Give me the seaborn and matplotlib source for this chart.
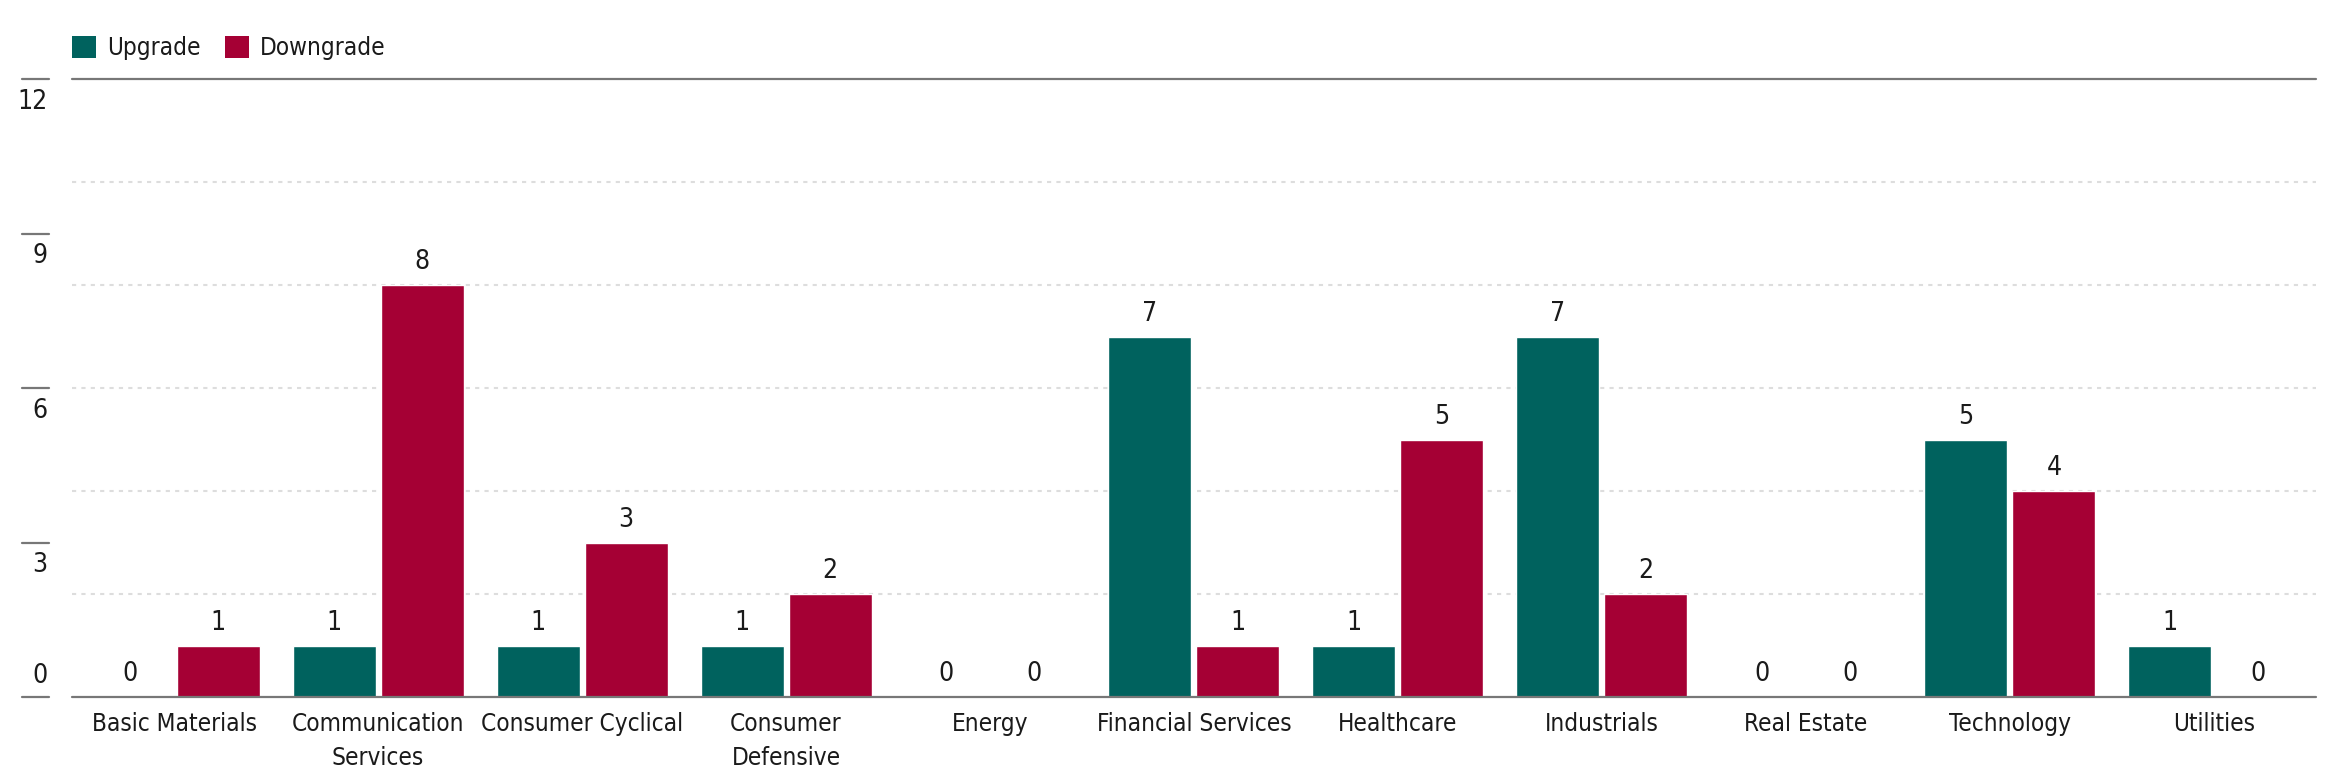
import pandas as pd
import numpy as np
import matplotlib
matplotlib.use("Agg")
import matplotlib.pyplot as plt
import seaborn as sns
from matplotlib.patches import Patch

# data
sectors = ["Basic Materials", "Communication\nServices", "Consumer Cyclical",
           "Consumer\nDefensive", "Energy", "Financial Services", "Healthcare",
           "Industrials", "Real Estate", "Technology", "Utilities"]
upgrade = [0, 1, 1, 1, 0, 7, 1, 7, 0, 5, 1]
downgrade = [1, 8, 3, 2, 0, 1, 5, 2, 0, 4, 0]
series = ["Upgrade", "Downgrade"]
y_ticks = [0, 3, 6, 9, 12]
grid_vals = [2, 4, 6, 8, 10]

colors = {"Upgrade": "#00625E", "Downgrade": "#A50034"}
line_col = "#777777"
text_col = "#1a1a1a"

df = pd.DataFrame({
    "sector": sectors * 2,
    "series": ["Upgrade"] * len(sectors) + ["Downgrade"] * len(sectors),
    "count": upgrade + downgrade,
})

sns.set_theme(style="white")
plt.rcParams['font.family'] = ['DejaVu Sans']
plt.rcParams['font.stretch'] = 'condensed'
plt.rcParams['text.color'] = text_col

fig = plt.figure(figsize=(23.4, 7.8), dpi=100)
ax = fig.add_axes([0.0308, 0.1064, 0.9589, 0.7923])

sns.barplot(data=df, x="sector", y="count", hue="series", hue_order=series,
            order=sectors, palette=colors, width=0.863, gap=0.057,
            saturation=1, legend=False, ax=ax, zorder=3)

for c in ax.containers:
    ax.bar_label(c, fmt="%d", padding=7, fontsize=19, color=text_col)

ax.set_ylim(0, 12)
ax.set_xlim(-0.5, len(sectors) - 0.5)

# dotted grid and solid top/bottom rules
for g in grid_vals:
    ax.axhline(g, color="#dddddd", lw=1.5, ls=(0, (2, 2.5)), zorder=1)
ax.axhline(12, color=line_col, lw=1.6, zorder=4, clip_on=False)
ax.axhline(0, color=line_col, lw=1.6, zorder=4, clip_on=False)

for s in ax.spines.values():
    s.set_visible(False)

# y labels with short rules
ax.set_yticks([])
ax.set_ylabel("")
ax.set_xlabel("")
ytr = ax.get_yaxis_transform()
for v in y_ticks:
    ax.plot([-0.0223, -0.0102], [v, v], transform=ytr, color=line_col,
            lw=1.6, clip_on=False)
    if v == 0:
        ax.annotate(str(v), xy=(-0.0111, v), xycoords=ytr, xytext=(0, 6),
                    textcoords="offset points", ha="right", va="bottom",
                    fontsize=19, color=text_col)
    else:
        ax.annotate(str(v), xy=(-0.0111, v), xycoords=ytr, xytext=(0, -7),
                    textcoords="offset points", ha="right", va="top",
                    fontsize=19, color=text_col)

ax.tick_params(axis="x", length=0, pad=11, labelsize=17.5, labelcolor=text_col)
for lbl in ax.get_xticklabels():
    lbl.set_linespacing(1.5)
    lbl.set_verticalalignment("top")

handles = [Patch(facecolor=colors[s], edgecolor="none", label=s) for s in series]
ax.legend(handles=handles, loc="lower left", bbox_to_anchor=(0, 1.03),
          ncol=2, frameon=False, fontsize=17.5, handlelength=1.0,
          handleheight=1.0, handletextpad=0.45, columnspacing=1.0,
          borderaxespad=0, borderpad=0)

fig.savefig("out.png", dpi=100)
